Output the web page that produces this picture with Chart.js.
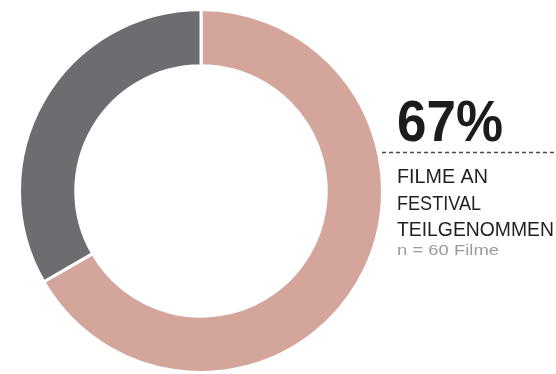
<!DOCTYPE html>
<html>
<head>
<meta charset="utf-8">
<script src="https://cdn.jsdelivr.net/npm/chart.js@4"></script>
<style>
  html, body { margin: 0; padding: 0; background: #fff; }
  #wrap { width: 556px; height: 374px; position: relative; }
</style>
</head>
<body>
<div id="wrap"><canvas id="myChart" width="556" height="374"></canvas></div>
<script>
// Filme: an Festival teilgenommen vs. nicht
var labels = ['An Festival teilgenommen', 'Nicht teilgenommen'];
var filme = [40, 20];
var colors = ['#d4a59a', '#6c6d71'];
var bigLabel = '67%';
var textLines = ['FILME AN', 'FESTIVAL', 'TEILGENOMMEN'];
var nLabel = 'n = 60 Filme';

// draw a text line squeezed/stretched to a target width
function fitText(ctx, text, x, y, w, font, color) {
  ctx.font = font;
  ctx.fillStyle = color;
  var m = ctx.measureText(text).width;
  ctx.save();
  ctx.translate(x, y);
  ctx.scale(w / m, 1);
  ctx.fillText(text, 0, 0);
  ctx.restore();
}

var sideText = {
  id: 'sideText',
  afterDraw: function(chart) {
    var ctx = chart.ctx;
    ctx.save();
    ctx.textBaseline = 'alphabetic';
    ctx.textAlign = 'left';
    fitText(ctx, bigLabel, 397, 141, 106, 'bold 57px "Liberation Sans Narrow", "Liberation Sans", sans-serif', '#1e1b1c');

    // dashed rule
    ctx.strokeStyle = '#4a4a4a';
    ctx.lineWidth = 1.3;
    ctx.setLineDash([4, 3]);
    ctx.beginPath();
    ctx.moveTo(382, 152.5);
    ctx.lineTo(556, 152.5);
    ctx.stroke();
    ctx.setLineDash([]);

    var font = '21px "Liberation Sans Narrow", "Liberation Sans", sans-serif';
    fitText(ctx, textLines[0], 397, 183, 91, font, '#231f20');
    fitText(ctx, textLines[1], 397, 209.5, 84, font, '#231f20');
    fitText(ctx, textLines[2], 397, 236, 157, font, '#231f20');
    fitText(ctx, nLabel, 397, 255, 102, '14px "Liberation Sans", sans-serif', '#9b9b9b');
    ctx.restore();
  }
};

var ctx = document.getElementById('myChart');
new Chart(ctx, {
  type: 'doughnut',
  data: {
    labels: labels,
    datasets: [{
      data: filme,
      backgroundColor: colors,
      borderColor: '#ffffff',
      borderWidth: 3
    }]
  },
  options: {
    responsive: false,
    devicePixelRatio: 1,
    animation: false,
    cutout: '69%',
    layout: { padding: { left: 18, top: 8, right: 172, bottom: 0 } },
    plugins: {
      legend: { display: false },
      tooltip: { enabled: false }
    }
  },
  plugins: [sideText]
});
</script>
</body>
</html>
